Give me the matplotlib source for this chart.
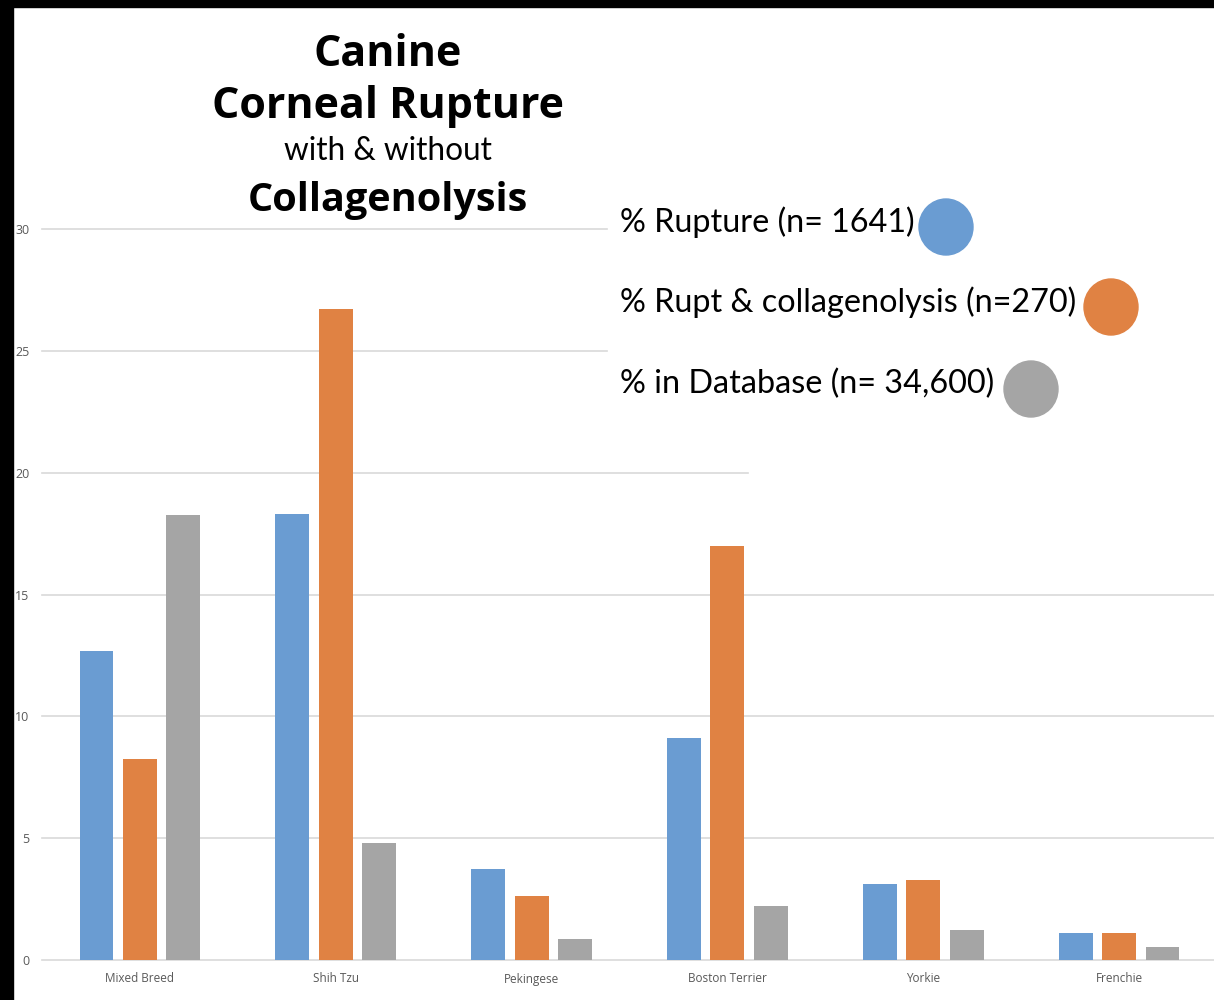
import numpy as np
import matplotlib.pyplot as plt
from matplotlib.patches import Rectangle, Ellipse

breeds = ["Mixed Breed", "Shih Tzu", "Pekingese", "Boston Terrier", "Yorkie", "Frenchie"]
rupture = [12.7, 18.3, 3.75, 9.1, 3.12, 1.1]
rupt_collagen = [8.25, 26.7, 2.62, 17.0, 3.3, 1.1]
in_database = [18.25, 4.8, 0.85, 2.2, 1.22, 0.53]

series_labels = ["% Rupture (n= 1641)",
                 "% Rupt & collagenolysis (n=270)",
                 "% in Database (n= 34,600)"]
colors = ["#6a9cd2", "#e08243", "#a5a5a5"]
yticks = [0, 5, 10, 15, 20, 25, 30]

W, H = 1214, 1000
fig = plt.figure(figsize=(W / 100, H / 100), dpi=100)

# axes in pixel terms: left 42, right 1217, bottom 960, top 229
ax = fig.add_axes([42 / W, 1 - 960 / H, (1217 - 42) / W, (960 - 229) / H])
x = np.arange(len(breeds))
bw = 0.173
off = 0.222
for i, vals in enumerate([rupture, rupt_collagen, in_database]):
    ax.bar(x + (i - 1) * off, vals, width=bw, color=colors[i], zorder=3)

ax.set_xlim(-0.5, 5.5)
ax.set_ylim(0, 30)
ax.set_yticks(yticks)
ax.set_yticklabels([str(t) for t in yticks], fontsize=9, color="#595959", family="Open Sans")
ax.set_xticks(x)
ax.set_xticklabels(breeds, fontsize=8.5, color="#595959", family="Open Sans")
ax.tick_params(axis="both", length=0)
ax.tick_params(axis="y", pad=9)
ax.tick_params(axis="x", pad=9)
for s in ax.spines.values():
    s.set_visible(False)

# gridlines (partly hidden behind the title / legend block)
grid_extent = {30: 0.481, 25: 0.481, 20: 0.601}
for t in yticks:
    ax.axhline(t, xmin=0, xmax=grid_extent.get(t, 1.0),
               color="#d9d9d9", lw=1.2, zorder=1, clip_on=False)

# title
fig.text(388 / W, 1 - 55 / H, "Canine", ha="center", va="center",
         fontsize=31, fontweight="bold", family="Open Sans")
fig.text(388 / W, 1 - 106 / H, "Corneal Rupture", ha="center", va="center",
         fontsize=31, fontweight="bold", family="Open Sans")
fig.text(388 / W, 1 - 151 / H, "with & without", ha="center", va="center",
         fontsize=22.7, family="Lato")
fig.text(388 / W, 1 - 200 / H, "Collagenolysis", ha="center", va="center",
         fontsize=28.5, fontweight="bold", family="Open Sans")

# legend block
leg_y = [222, 302, 384]
dot_x = [946, 1111, 1031]
for lab, c, ly, dx in zip(series_labels, colors, leg_y, dot_x):
    fig.text(620 / W, 1 - ly / H, lab, ha="left", va="center",
             fontsize=23.3, family="Lato")
    fig.patches.append(Ellipse((dx / W, 1 - (ly + 5) / H), 54 / W, 56 / H,
                               transform=fig.transFigure, color=c))

# black frame strips at top and left
fig.patches.append(Rectangle((0, 0), 13 / W, 1, transform=fig.transFigure,
                             color="black", zorder=10))
fig.patches.append(Rectangle((0, 1 - 7 / H), 1, 7 / H, transform=fig.transFigure,
                             color="black", zorder=10))

fig.savefig("out.png", dpi=100)
